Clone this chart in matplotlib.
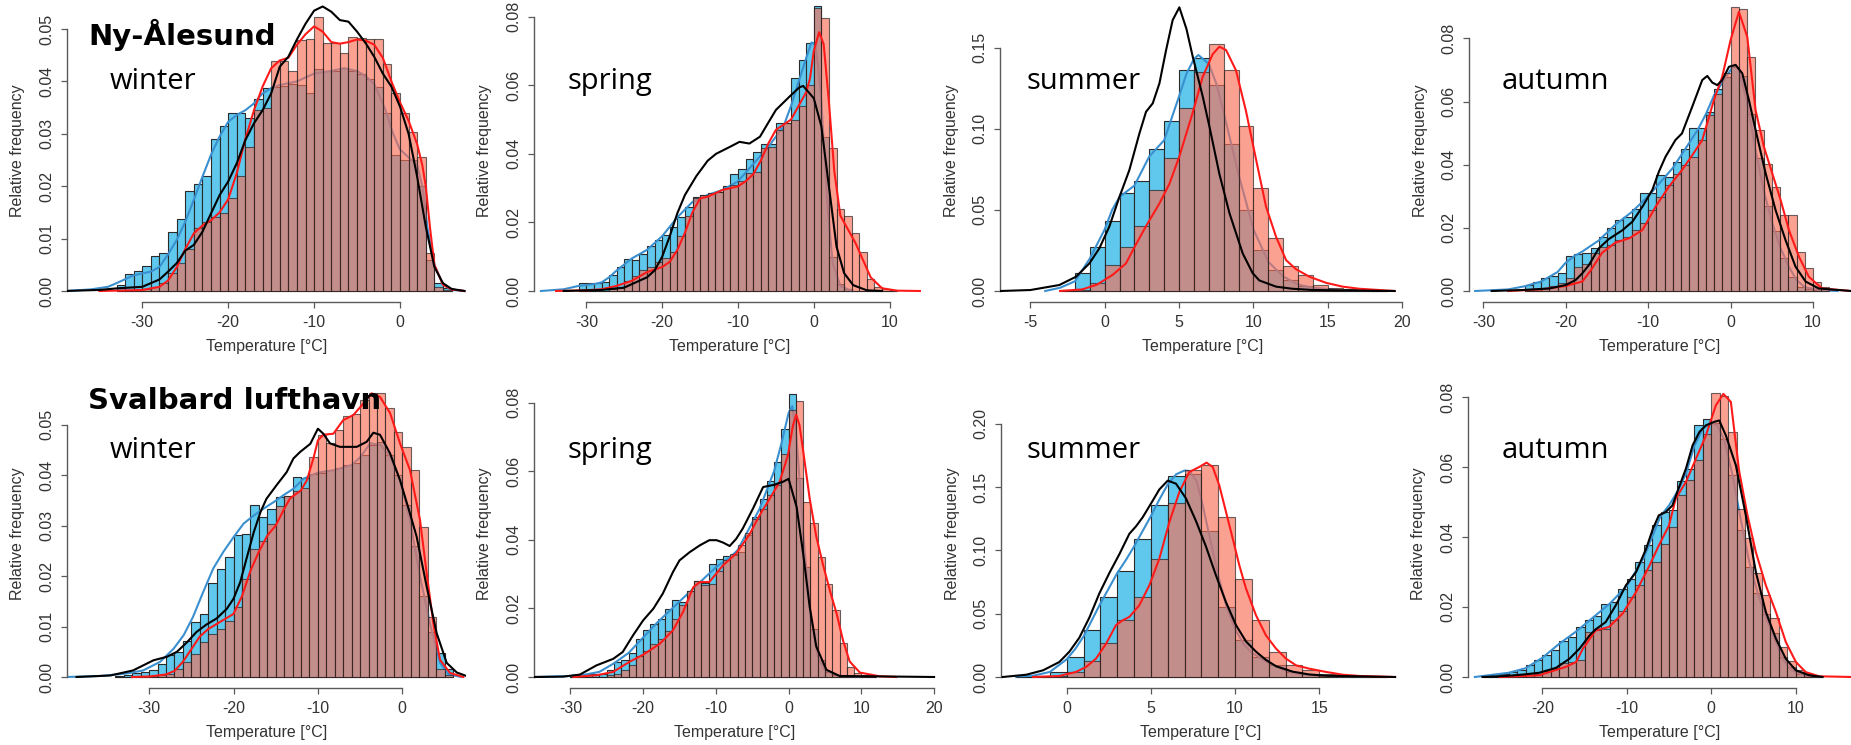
import matplotlib
matplotlib.use("Agg")
import matplotlib.pyplot as plt

plt.rcParams["axes.unicode_minus"] = False
plt.rcParams["font.family"] = ["Liberation Sans", "DejaVu Sans"]

# ---------------- data: histogram heights (1 degC bins) ----------------
# Ny-Alesund winter
ny_win_start = -33
ny_win_blue = [0.0012, 0.0032, 0.0039, 0.0048, 0.0066, 0.0072, 0.0113, 0.0137, 0.0190, 0.0204,
               0.0220, 0.0290, 0.0315, 0.0340, 0.0340, 0.0330, 0.0366, 0.0387, 0.0390, 0.0392,
               0.0395, 0.0393, 0.0378, 0.0423, 0.0420, 0.0420, 0.0425, 0.0420, 0.0414, 0.0405,
               0.0390, 0.0340, 0.0260, 0.0250, 0.0250, 0.0200, 0.0060, 0.0015, 0.0005]
ny_win_red = [0.0, 0.0, 0.0002, 0.0003, 0.0008, 0.0016, 0.0034, 0.0053, 0.0080, 0.0120,
              0.0132, 0.0142, 0.0148, 0.0177, 0.0220, 0.0275, 0.0345, 0.0350, 0.0438, 0.0438,
              0.0420, 0.0479, 0.0480, 0.0522, 0.0474, 0.0474, 0.0454, 0.0484, 0.0482, 0.0480,
              0.0480, 0.0434, 0.0378, 0.0340, 0.0304, 0.0255, 0.0072, 0.0008, 0.0002]

# Ny-Alesund spring
ny_spr_start = -31
ny_spr_blue = [0.0022, 0.0024, 0.0022, 0.0027, 0.0047, 0.0071, 0.0092, 0.0090, 0.0108, 0.0131,
               0.0150, 0.0163, 0.0188, 0.0217, 0.0246, 0.0275, 0.0280, 0.0285, 0.0290, 0.0305,
               0.0340, 0.0355, 0.0384, 0.0406, 0.0430, 0.0430, 0.0490, 0.0490, 0.0620, 0.0674,
               0.0722, 0.0830, 0.0450, 0.0100, 0.0020, 0.0005, 0.0, 0.0, 0.0, 0.0, 0.0, 0.0]
ny_spr_red = [0.0, 0.0, 0.0, 0.0, 0.0005, 0.0010, 0.0030, 0.0045, 0.0060, 0.0070,
              0.0085, 0.0095, 0.0115, 0.0160, 0.0220, 0.0270, 0.0280, 0.0285, 0.0290, 0.0300,
              0.0310, 0.0320, 0.0345, 0.0346, 0.0416, 0.0420, 0.0470, 0.0490, 0.0500, 0.0540,
              0.0600, 0.0824, 0.0795, 0.0416, 0.0240, 0.0220, 0.0168, 0.0113, 0.0034, 0.0013, 0.0007, 0.0003]

# Ny-Alesund summer
ny_sum_start = -3
ny_sum_blue = [0.0005, 0.0110, 0.0270, 0.0434, 0.0606, 0.0680, 0.0875, 0.1046, 0.1360, 0.1434,
               0.1270, 0.0906, 0.0500, 0.0250, 0.0130, 0.0068, 0.0030, 0.0014, 0.0005, 0.0003, 0.0001, 0.0]
ny_sum_red = [0.0, 0.0005, 0.0050, 0.0160, 0.0270, 0.0400, 0.0620, 0.0820, 0.1130, 0.1350,
              0.1520, 0.1360, 0.1020, 0.0635, 0.0325, 0.0155, 0.0098, 0.0040, 0.0020, 0.0010, 0.0005, 0.0003]

# Ny-Alesund autumn
ny_aut_start = -25
ny_aut_blue = [0.0019, 0.0030, 0.0040, 0.0047, 0.0056, 0.0110, 0.0117, 0.0120, 0.0135, 0.0170,
               0.0200, 0.0225, 0.0235, 0.0260, 0.0310, 0.0310, 0.0367, 0.0362, 0.0410, 0.0450,
               0.0515, 0.0515, 0.0568, 0.0640, 0.0677, 0.0710, 0.0680, 0.0560, 0.0420, 0.0270,
               0.0190, 0.0103, 0.0045, 0.0014, 0.0005, 0.0002, 0.0]
ny_aut_red = [0.0003, 0.0005, 0.0009, 0.0015, 0.0025, 0.0040, 0.0077, 0.0085, 0.0120, 0.0140,
              0.0146, 0.0160, 0.0172, 0.0193, 0.0216, 0.0256, 0.0299, 0.0336, 0.0372, 0.0400,
              0.0425, 0.0478, 0.0557, 0.0623, 0.0690, 0.0898, 0.0892, 0.0742, 0.0510, 0.0401,
              0.0330, 0.0240, 0.0240, 0.0125, 0.0072, 0.0030, 0.0012]

# Svalbard lufthavn winter
sv_win_start = -34
sv_win_blue = [0.0002, 0.0003, 0.0007, 0.0010, 0.0013, 0.0026, 0.0044, 0.0050, 0.0071, 0.0108,
               0.0124, 0.0187, 0.0213, 0.0238, 0.0282, 0.0284, 0.0340, 0.0317, 0.0332, 0.0357,
               0.0359, 0.0396, 0.0394, 0.0403, 0.0405, 0.0410, 0.0415, 0.0420, 0.0425, 0.0440,
               0.0460, 0.0465, 0.0440, 0.0400, 0.0340, 0.0260, 0.0160, 0.0090, 0.0047, 0.0015]
sv_win_red = [0.0, 0.0, 0.0, 0.0001, 0.0002, 0.0003, 0.0006, 0.0015, 0.0030, 0.0045,
              0.0070, 0.0085, 0.0095, 0.0110, 0.0139, 0.0195, 0.0254, 0.0270, 0.0304, 0.0339,
              0.0359, 0.0368, 0.0375, 0.0435, 0.0480, 0.0463, 0.0490, 0.0517, 0.0522, 0.0549,
              0.0562, 0.0562, 0.0532, 0.0486, 0.0456, 0.0410, 0.0298, 0.0118, 0.0015, 0.0003]

# Svalbard lufthavn spring
sv_spr_start = -30
sv_spr_blue = [0.0003, 0.0005, 0.0008, 0.0010, 0.0010, 0.0020, 0.0044, 0.0050, 0.0070, 0.0110,
               0.0136, 0.0155, 0.0170, 0.0197, 0.0224, 0.0219, 0.0250, 0.0279, 0.0275, 0.0330,
               0.0345, 0.0352, 0.0355, 0.0364, 0.0413, 0.0466, 0.0520, 0.0573, 0.0627, 0.0724,
               0.0826, 0.0580, 0.0320, 0.0140, 0.0050, 0.0015, 0.0005, 0.0002, 0.0, 0.0, 0.0, 0.0]
sv_spr_red = [0.0, 0.0, 0.0, 0.0, 0.0, 0.0005, 0.0010, 0.0020, 0.0035, 0.0060,
              0.0075, 0.0095, 0.0110, 0.0135, 0.0170, 0.0210, 0.0250, 0.0280, 0.0268, 0.0270,
              0.0310, 0.0340, 0.0360, 0.0385, 0.0420, 0.0460, 0.0490, 0.0530, 0.0560, 0.0650,
              0.0780, 0.0806, 0.0511, 0.0448, 0.0350, 0.0271, 0.0196, 0.0099, 0.0028, 0.0013, 0.0006, 0.0003]

# Svalbard lufthavn summer
sv_sum_start = -3
sv_sum_blue = [0.0003, 0.0010, 0.0040, 0.0158, 0.0368, 0.0630, 0.0840, 0.1090, 0.1355, 0.1587,
               0.1605, 0.1150, 0.0553, 0.0290, 0.0158, 0.0092, 0.0040, 0.0020, 0.0008, 0.0004, 0.0002, 0.0]
sv_sum_red = [0.0, 0.0002, 0.0008, 0.0040, 0.0130, 0.0270, 0.0447, 0.0630, 0.0930, 0.1376,
              0.1630, 0.1676, 0.1263, 0.0776, 0.0447, 0.0197, 0.0092, 0.0058, 0.0026, 0.0013, 0.0006, 0.0003]

# Svalbard lufthavn autumn
sv_aut_start = -27
sv_aut_blue = [0.0003, 0.0010, 0.0010, 0.0014, 0.0019, 0.0033, 0.0050, 0.0062, 0.0076, 0.0102,
               0.0114, 0.0143, 0.0162, 0.0173, 0.0210, 0.0215, 0.0252, 0.0280, 0.0329, 0.0376,
               0.0435, 0.0471, 0.0478, 0.0560, 0.0595, 0.0721, 0.0738, 0.0725, 0.0680, 0.0578,
               0.0421, 0.0315, 0.0239, 0.0180, 0.0125, 0.0058, 0.0030, 0.0010, 0.0003, 0.0]
sv_aut_red = [0.0, 0.0, 0.0, 0.0002, 0.0003, 0.0005, 0.0010, 0.0016, 0.0025, 0.0040,
              0.0043, 0.0050, 0.0129, 0.0133, 0.0138, 0.0162, 0.0190, 0.0229, 0.0262, 0.0305,
              0.0329, 0.0380, 0.0429, 0.0520, 0.0563, 0.0620, 0.0695, 0.0812, 0.0803, 0.0701,
              0.0479, 0.0396, 0.0298, 0.0234, 0.0168, 0.0086, 0.0045, 0.0020, 0.0008, 0.0003]

# ---------------- data: density curves (temperature, density) ----------------
ny_win_blue_line = [(-39, 0), (-36, 0.0003), (-34, 0.0008), (-33, 0.0015), (-31, 0.003), (-29, 0.0037),
                    (-28, 0.0046), (-27, 0.007), (-26, 0.0097), (-25, 0.0132), (-24, 0.0174), (-23, 0.0218),
                    (-22, 0.026), (-21, 0.0295), (-20, 0.0323), (-19, 0.0336), (-18, 0.0345), (-17, 0.0358),
                    (-16, 0.0377), (-15, 0.0387), (-14, 0.0393), (-12, 0.0400), (-10, 0.0415), (-8, 0.0420),
                    (-6.5, 0.0425), (-5, 0.0420), (-4, 0.0410), (-3, 0.0395), (-1.8, 0.035), (-0.8, 0.030),
                    (0, 0.027), (1, 0.0255), (2, 0.024), (2.6, 0.020), (3.2, 0.012), (4, 0.005), (5, 0.0012),
                    (6, 0.0002), (7.5, 0)]
ny_win_red_line = [(-35, 0), (-32, 0.0001), (-30, 0.0002), (-28, 0.0008), (-27, 0.002), (-26, 0.0045),
                   (-25, 0.008), (-24, 0.011), (-23, 0.0125), (-22, 0.0135), (-21, 0.015), (-20, 0.0175),
                   (-19, 0.0225), (-18, 0.029), (-17, 0.0345), (-16, 0.039), (-15, 0.0425), (-14, 0.044),
                   (-13, 0.0445), (-12, 0.047), (-11, 0.049), (-10, 0.0505), (-9, 0.0495), (-8, 0.0475),
                   (-7, 0.0472), (-6, 0.0475), (-5, 0.048), (-4, 0.0478), (-3, 0.047), (-2, 0.0445),
                   (-1, 0.040), (0, 0.036), (1, 0.0325), (2, 0.028), (2.6, 0.024), (3, 0.020), (3.5, 0.012),
                   (4, 0.005), (5, 0.0012), (6, 0.0003), (7.5, 0)]
ny_win_black_line = [(-39, 0), (-35, 0.0002), (-33, 0.0005), (-30, 0.0008), (-29, 0.0015), (-28, 0.0022),
                     (-27, 0.0037), (-26, 0.0053), (-25, 0.0077), (-24, 0.0088), (-23, 0.0113), (-22, 0.0148),
                     (-21, 0.0183), (-20, 0.0209), (-19, 0.0244), (-18, 0.0288), (-17, 0.032), (-16, 0.0345),
                     (-15, 0.0377), (-14, 0.0428), (-13, 0.0447), (-12, 0.048), (-11, 0.051), (-10, 0.0535),
                     (-9, 0.0543), (-8, 0.0533), (-7, 0.0517), (-6, 0.0514), (-5, 0.0495), (-4, 0.0473),
                     (-3, 0.0447), (-2, 0.0415), (-1, 0.039), (0, 0.0352), (1, 0.030), (2, 0.0218),
                     (3, 0.0123), (4, 0.0046), (5, 0.0015), (6, 0.0004), (7.5, 0)]

ny_spr_blue_line = [(-36, 0), (-33, 0.0005), (-31, 0.0015), (-29, 0.002), (-28, 0.0025), (-27, 0.004),
                    (-26, 0.006), (-24, 0.0095), (-22, 0.012), (-20, 0.016), (-18, 0.0215), (-16, 0.026),
                    (-14, 0.028), (-12, 0.0295), (-10, 0.032), (-8, 0.037), (-6, 0.042), (-5, 0.045),
                    (-4, 0.048), (-3, 0.054), (-2, 0.061), (-1, 0.068), (-0.3, 0.0725), (0.2, 0.072),
                    (0.6, 0.065), (1, 0.055), (1.4, 0.04), (1.8, 0.025), (2.5, 0.008), (3.5, 0.0015), (5, 0)]
ny_spr_red_line = [(-34, 0), (-30, 0.0002), (-28, 0.0005), (-26, 0.0015), (-24, 0.003), (-22, 0.0055),
                   (-20, 0.007), (-19, 0.0085), (-18, 0.012), (-17, 0.017), (-16, 0.023), (-15, 0.027),
                   (-14, 0.0275), (-13, 0.0285), (-12, 0.0295), (-11, 0.030), (-10, 0.0305), (-9, 0.032),
                   (-8, 0.034), (-7, 0.038), (-6, 0.043), (-5, 0.047), (-4, 0.0485), (-3, 0.050),
                   (-2, 0.054), (-1, 0.058), (-0.5, 0.062), (0, 0.070), (0.7, 0.0755), (1.3, 0.072),
                   (2, 0.055), (2.7, 0.035), (3.5, 0.022), (4.5, 0.018), (5.5, 0.014), (6.5, 0.009),
                   (7.5, 0.004), (9, 0.0008), (11, 0.0001), (14, 0)]
ny_spr_black_line = [(-33, 0), (-28, 0.0003), (-25, 0.001), (-22, 0.004), (-21, 0.006), (-20, 0.01),
                     (-19, 0.016), (-18, 0.0227), (-17, 0.028), (-15.5, 0.0335), (-14, 0.038), (-12.9, 0.040),
                     (-11.1, 0.042), (-9.8, 0.0435), (-8.5, 0.043), (-7.1, 0.045), (-6.3, 0.048),
                     (-5, 0.0528), (-3.2, 0.0567), (-1.9, 0.0594), (-1.4, 0.0598), (0, 0.0562), (1, 0.048),
                     (2, 0.0304), (3, 0.0129), (4, 0.0052), (5.2, 0.0017), (7, 0.0002), (9, 0)]

ny_sum_blue_line = [(-4, 0), (-3, 0.002), (-2, 0.006), (-1, 0.02), (0, 0.038), (0.5, 0.05), (1, 0.058),
                    (2, 0.065), (3, 0.083), (4, 0.093), (5, 0.12), (5.5, 0.134), (6, 0.143), (6.3, 0.1455),
                    (7, 0.14), (7.5, 0.128), (8, 0.11), (9, 0.072), (10, 0.038), (11, 0.018), (12, 0.009),
                    (13, 0.004), (14, 0.002), (16, 0.0005), (18, 0)]
ny_sum_red_line = [(-3, 0), (-1.5, 0.001), (-0.5, 0.004), (0.54, 0.01), (1.43, 0.017), (2.0, 0.027),
                   (2.78, 0.04), (3.68, 0.054), (4.35, 0.066), (5.02, 0.083), (5.92, 0.11), (6.59, 0.132),
                   (7.26, 0.146), (7.71, 0.1506), (8.16, 0.1486), (8.83, 0.136), (9.5, 0.111),
                   (10.18, 0.081), (10.85, 0.052), (11.52, 0.0335), (12.2, 0.019), (12.87, 0.0134),
                   (13.77, 0.0088), (14.9, 0.005), (16.0, 0.0027), (17.1, 0.0014), (19.5, 0)]
ny_sum_black_line = [(-7, 0), (-5, 0.0006), (-3.05, 0.0037), (-1.93, 0.0088), (-1.03, 0.017),
                     (-0.36, 0.0263), (0.31, 0.0397), (0.99, 0.058), (1.66, 0.0746), (2.33, 0.097),
                     (2.78, 0.1105), (3.23, 0.1157), (3.68, 0.128), (4.13, 0.1486), (4.57, 0.167),
                     (5.02, 0.1749), (5.5, 0.1615), (5.92, 0.1445), (6.59, 0.12), (7.04, 0.1015),
                     (7.71, 0.0723), (8.39, 0.048), (9.28, 0.0232), (9.95, 0.011), (10.4, 0.0065),
                     (11.52, 0.0027), (12.6, 0.0014), (14, 0.0006), (19.5, 0)]

ny_aut_blue_line = [(-31, 0), (-27, 0.0005), (-25, 0.0015), (-23, 0.003), (-21, 0.006), (-20, 0.009),
                    (-19, 0.011), (-18, 0.0125), (-16, 0.016), (-14, 0.021), (-12, 0.025), (-10, 0.030),
                    (-9, 0.033), (-8, 0.036), (-7, 0.039), (-6, 0.043), (-5, 0.047), (-4, 0.051),
                    (-3, 0.056), (-2, 0.062), (-1, 0.066), (0, 0.070), (0.5, 0.0715), (1, 0.07), (2, 0.06),
                    (3, 0.045), (4, 0.032), (5, 0.022), (6, 0.014), (7, 0.008), (8, 0.0035), (9, 0.0012),
                    (11, 0.0002), (13, 0)]
ny_aut_red_line = [(-27, 0), (-23, 0.0005), (-20, 0.0016), (-18, 0.003), (-17, 0.0064), (-15.6, 0.0121),
                   (-14, 0.0153), (-12.3, 0.0167), (-10.7, 0.0193), (-9.1, 0.0267), (-7.5, 0.033),
                   (-5.9, 0.0383), (-4.65, 0.043), (-3.44, 0.0478), (-2.02, 0.0605), (-1.01, 0.0679),
                   (0, 0.0795), (1.01, 0.0884), (2.02, 0.0805), (3.03, 0.0573), (4.04, 0.0457),
                   (5.05, 0.0373), (6.07, 0.0288), (7.08, 0.0193), (8.29, 0.0109), (9.5, 0.0045),
                   (11.1, 0.0008), (14.6, 0)]
ny_aut_black_line = [(-29, 0), (-25.3, 0.0003), (-22, 0.0008), (-20, 0.0019), (-18.8, 0.0035),
                     (-18, 0.0056), (-17.2, 0.0082), (-16, 0.0135), (-14.8, 0.0164), (-13.1, 0.0193),
                     (-11.9, 0.022), (-10.7, 0.0267), (-9.5, 0.032), (-8.7, 0.0378), (-7.9, 0.0425),
                     (-6.7, 0.0478), (-5.9, 0.0499), (-4.65, 0.0584), (-3.44, 0.0668), (-2.83, 0.0681),
                     (-2.22, 0.066), (-1.62, 0.0652), (-1.01, 0.0668), (-0.2, 0.071), (0.61, 0.0716),
                     (1.42, 0.0689), (2.22, 0.0605), (3.03, 0.051), (4.25, 0.0373), (5.46, 0.0256),
                     (6.67, 0.0161), (7.88, 0.0077), (9.1, 0.003), (10.7, 0.0008), (14.6, 0)]

sv_win_blue_line = [(-39.8, 0), (-35.8, 0.0002), (-32.6, 0.0007), (-30.7, 0.0013), (-28.7, 0.003),
                    (-27.1, 0.0056), (-25.9, 0.0083), (-24.8, 0.0119), (-23.6, 0.0168), (-22.4, 0.0215),
                    (-21.2, 0.0248), (-20, 0.0277), (-18.8, 0.0304), (-17.6, 0.032), (-16.4, 0.0334),
                    (-15.2, 0.0347), (-14.1, 0.036), (-12.9, 0.0373), (-11.7, 0.0393), (-10, 0.0405),
                    (-8, 0.041), (-6, 0.042), (-5, 0.0435), (-3.8, 0.0463), (-2.6, 0.046), (-1.45, 0.0437),
                    (-0.27, 0.039), (0.91, 0.0311), (2.1, 0.0199), (3.28, 0.0106), (4.47, 0.0028),
                    (5.5, 0.0005), (7, 0)]
sv_win_red_line = [(-32, 0), (-30, 0.0001), (-28, 0.0005), (-27, 0.0012), (-26, 0.003), (-25, 0.0055),
                   (-24, 0.008), (-23, 0.0095), (-22, 0.0105), (-21, 0.0115), (-20, 0.0125), (-19, 0.016),
                   (-18, 0.021), (-17, 0.0248), (-16, 0.028), (-15, 0.030), (-14, 0.0333), (-13.3, 0.0354),
                   (-12, 0.037), (-11.3, 0.039), (-10.5, 0.0435), (-10, 0.0469), (-9.36, 0.048),
                   (-8.17, 0.0482), (-7, 0.0509), (-5.8, 0.0519), (-4.61, 0.0542), (-3.63, 0.0562),
                   (-2.64, 0.0555), (-1.45, 0.0523), (-0.27, 0.0463), (0.91, 0.041), (2.1, 0.0311),
                   (2.89, 0.0205), (3.68, 0.0106), (4.47, 0.0034), (5.66, 0.0008), (7.24, 0)]
sv_win_black_line = [(-38.6, 0), (-34.6, 0.0003), (-31.9, 0.0013), (-29.5, 0.0033), (-27.9, 0.004),
                     (-26.7, 0.005), (-25.5, 0.0069), (-24.4, 0.0089), (-23.2, 0.0104), (-22, 0.0116),
                     (-20.8, 0.0135), (-20, 0.0155), (-19.2, 0.0188), (-18.4, 0.0238), (-17.6, 0.0287),
                     (-16.8, 0.0327), (-16.1, 0.0353), (-14.9, 0.038), (-13.7, 0.0406), (-12.9, 0.0433),
                     (-12.1, 0.0446), (-10.9, 0.0462), (-10, 0.0492), (-9.36, 0.0482), (-8.57, 0.0463),
                     (-7.4, 0.0456), (-5.4, 0.0456), (-4.22, 0.0466), (-3.43, 0.0484), (-2.64, 0.048),
                     (-1.45, 0.0443), (-0.27, 0.039), (0.91, 0.0324), (1.7, 0.0278), (2.89, 0.0179),
                     (4.07, 0.0087), (5.26, 0.0028), (6.45, 0.0009), (7.6, 0.0002)]

sv_spr_blue_line = [(-35, 0), (-30, 0.0003), (-28, 0.0007), (-26, 0.0015), (-24, 0.004), (-22, 0.007),
                    (-20, 0.0115), (-18, 0.016), (-16, 0.02), (-14, 0.024), (-12, 0.028), (-10, 0.032),
                    (-8, 0.035), (-7, 0.037), (-6, 0.041), (-4, 0.049), (-2, 0.060), (-1, 0.068),
                    (0, 0.077), (0.5, 0.079), (1, 0.072), (1.5, 0.058), (2, 0.042), (3, 0.018),
                    (4, 0.006), (5, 0.002), (7, 0.0003), (10, 0)]
sv_spr_red_line = [(-29.6, 0), (-26.4, 0.0005), (-24.1, 0.0015), (-21.9, 0.0044), (-20, 0.0065),
                   (-17.7, 0.0097), (-15.9, 0.0136), (-14.5, 0.019), (-13.1, 0.0262), (-12.2, 0.0277),
                   (-10.9, 0.0277), (-9, 0.0326), (-7.2, 0.036), (-5.4, 0.0415), (-4, 0.0471),
                   (-2.6, 0.052), (-1.24, 0.0569), (-0.1, 0.0646), (0.6, 0.0734), (1.05, 0.0765),
                   (1.5, 0.0734), (2, 0.066), (2.9, 0.052), (3.8, 0.041), (4.7, 0.033), (5.7, 0.025),
                   (6.6, 0.0185), (7.5, 0.0105), (8.4, 0.0045), (9.8, 0.0013), (12.5, 0.0002), (14.8, 0)]
sv_spr_black_line = [(-35, 0), (-31, 0.0001), (-28.7, 0.0007), (-26.4, 0.0034), (-24.1, 0.0053),
                     (-22.8, 0.0073), (-21.4, 0.0121), (-20, 0.0165), (-18.6, 0.0199), (-17.3, 0.0243),
                     (-15.9, 0.0306), (-15, 0.034), (-13.6, 0.0364), (-12.2, 0.0384), (-10.9, 0.0399),
                     (-9.9, 0.0399), (-9, 0.0392), (-8.1, 0.0382), (-7.2, 0.0403), (-6.3, 0.0433),
                     (-4.9, 0.0491), (-3.5, 0.0554), (-2.1, 0.056), (-0.8, 0.0569), (0, 0.0578),
                     (1.1, 0.0496), (2, 0.036), (2.9, 0.0205), (3.8, 0.0089), (5.2, 0.0021), (7, 0.0003),
                     (20, 0)]

sv_sum_blue_line = [(-3, 0), (-2, 0.001), (-1, 0.004), (0, 0.014), (0.5, 0.022), (1, 0.032), (1.5, 0.045),
                    (2, 0.058), (2.5, 0.07), (3, 0.082), (3.5, 0.092), (4, 0.103), (4.5, 0.115),
                    (5, 0.127), (5.5, 0.14), (6, 0.152), (6.5, 0.16), (7, 0.163), (7.3, 0.1625),
                    (7.7, 0.155), (8, 0.14), (8.5, 0.11), (9, 0.08), (9.5, 0.055), (10, 0.038),
                    (10.5, 0.026), (11, 0.019), (12, 0.011), (13, 0.005), (14, 0.002), (16, 0.0005), (18, 0)]
sv_sum_red_line = [(-2, 0), (-0.44, 0.0008), (0.55, 0.004), (1.15, 0.0079), (1.74, 0.0145), (2.34, 0.0263),
                   (2.93, 0.041), (3.32, 0.0447), (3.72, 0.0474), (4.31, 0.0566), (4.91, 0.0724),
                   (5.5, 0.0934), (6.1, 0.1224), (6.69, 0.146), (7.28, 0.1618), (7.88, 0.1658),
                   (8.3, 0.1692), (8.67, 0.1658), (9.06, 0.1513), (9.46, 0.1303), (9.86, 0.1092),
                   (10.25, 0.0882), (10.65, 0.0697), (11.24, 0.0487), (11.83, 0.0329), (12.43, 0.0224),
                   (13.02, 0.0145), (13.62, 0.0092), (14.4, 0.0066), (15.4, 0.004), (16.4, 0.0018),
                   (17.4, 0.0008), (19.5, 0)]
sv_sum_black_line = [(-3.8, 0), (-2.4, 0.0018), (-1.4, 0.0053), (-0.44, 0.0118), (0.16, 0.02),
                     (0.75, 0.031), (1.35, 0.047), (1.94, 0.066), (2.53, 0.082), (3.13, 0.097),
                     (3.72, 0.113), (4.12, 0.119), (4.51, 0.126), (5.1, 0.139), (5.5, 0.148), (6.0, 0.155),
                     (6.49, 0.1526), (7.08, 0.141), (7.68, 0.123), (8.27, 0.103), (8.87, 0.08),
                     (9.46, 0.059), (10.05, 0.041), (10.65, 0.028), (11.24, 0.02), (11.83, 0.0135),
                     (12.43, 0.0085), (13.42, 0.0042), (14.4, 0.002), (15.4, 0.001), (19.5, 0)]

sv_aut_blue_line = [(-28, 0), (-26, 0.0006), (-24, 0.0012), (-22, 0.0025), (-20, 0.0055), (-18, 0.0095),
                    (-16, 0.013), (-14, 0.017), (-12, 0.021), (-10, 0.026), (-8, 0.034), (-7, 0.04),
                    (-6, 0.046), (-5, 0.049), (-4, 0.053), (-3, 0.058), (-2, 0.066), (-1, 0.071),
                    (0, 0.0725), (0.7, 0.072), (1.5, 0.068), (2.5, 0.058), (3.5, 0.045), (4.5, 0.033),
                    (5.5, 0.024), (6.5, 0.017), (7.5, 0.011), (8.5, 0.005), (9.5, 0.002), (11, 0.0005), (13, 0)]
sv_aut_red_line = [(-25.1, 0), (-20.4, 0.0005), (-17.2, 0.0029), (-16, 0.0043), (-15.2, 0.0081),
                   (-13.7, 0.0133), (-12.1, 0.0143), (-10.5, 0.0181), (-8.9, 0.0243), (-7.3, 0.0319),
                   (-6.2, 0.0376), (-5, 0.0433), (-4.2, 0.051), (-3, 0.0557), (-1.8, 0.0624),
                   (-0.63, 0.069), (0.55, 0.0776), (1.44, 0.0809), (2.33, 0.0786), (3.3, 0.059),
                   (4.3, 0.0462), (5.29, 0.0357), (6.47, 0.0262), (7.66, 0.0186), (8.84, 0.01),
                   (10.03, 0.0043), (11.2, 0.0014), (12.8, 0.0002), (16.7, 0)]
sv_aut_black_line = [(-27.1, 0), (-24.3, 0.0003), (-22.3, 0.0007), (-20.4, 0.0012), (-18.4, 0.0026),
                     (-16.8, 0.0052), (-15.6, 0.0081), (-14.4, 0.0119), (-13.7, 0.0136), (-12.5, 0.0157),
                     (-11.3, 0.0205), (-10.1, 0.0262), (-8.9, 0.03), (-7.7, 0.0367), (-6.9, 0.0424),
                     (-6.2, 0.0462), (-5.4, 0.0471), (-4.6, 0.049), (-3.8, 0.0543), (-3, 0.0595),
                     (-2.2, 0.0662), (-1.4, 0.07), (-0.63, 0.0719), (0.36, 0.0729), (0.95, 0.0733),
                     (1.74, 0.069), (2.92, 0.0605), (4.1, 0.0462), (5.29, 0.03), (6.47, 0.0186),
                     (7.66, 0.011), (8.84, 0.0052), (10.03, 0.0019), (11.6, 0.0005), (13.2, 0)]

stations = ["Ny-Ålesund", "Svalbard lufthavn"]
seasons = ["winter", "spring", "summer", "autumn"]

# ---------------- layout (pixels in the 1851x745 canvas) ----------------
W, H = 1851, 745
# left, right, bottom, top, x-pixel of 0 degC, px per degC, y-pixel of 0, px per unit
BOXES = [
    (67, 466, 302, 0, 400.0, 8.59, 291, 5240),
    (534, 925, 302, 0, 813.8, 7.58, 291, 3429),
    (1000, 1406, 302, 0, 1104.7, 14.87, 291, 1622),
    (1469, 1851, 302, 0, 1730.6, 8.24, 291, 3158),
    (67, 466, 688, 380, 402.3, 8.44, 677, 5047),
    (534, 936, 688, 380, 788.6, 7.275, 677, 3429),
    (1001, 1401, 688, 380, 1066.7, 16.84, 677, 1267),
    (1468, 1851, 688, 380, 1711.2, 8.44, 677, 3500),
]
XTICKS = [[-30, -20, -10, 0], [-30, -20, -10, 0, 10], [-5, 0, 5, 10, 15, 20], [-30, -20, -10, 0, 10],
          [-30, -20, -10, 0], [-30, -20, -10, 0, 10, 20], [0, 5, 10, 15], [-20, -10, 0, 10]]
YTICKS = [[0, 0.01, 0.02, 0.03, 0.04, 0.05], [0, 0.02, 0.04, 0.06, 0.08], [0, 0.05, 0.10, 0.15],
          [0, 0.02, 0.04, 0.06, 0.08], [0, 0.01, 0.02, 0.03, 0.04, 0.05], [0, 0.02, 0.04, 0.06, 0.08],
          [0, 0.05, 0.10, 0.15, 0.20], [0, 0.02, 0.04, 0.06, 0.08]]

HISTS = [
    (ny_win_start, ny_win_blue, ny_win_red, ny_win_blue_line, ny_win_red_line, ny_win_black_line),
    (ny_spr_start, ny_spr_blue, ny_spr_red, ny_spr_blue_line, ny_spr_red_line, ny_spr_black_line),
    (ny_sum_start, ny_sum_blue, ny_sum_red, ny_sum_blue_line, ny_sum_red_line, ny_sum_black_line),
    (ny_aut_start, ny_aut_blue, ny_aut_red, ny_aut_blue_line, ny_aut_red_line, ny_aut_black_line),
    (sv_win_start, sv_win_blue, sv_win_red, sv_win_blue_line, sv_win_red_line, sv_win_black_line),
    (sv_spr_start, sv_spr_blue, sv_spr_red, sv_spr_blue_line, sv_spr_red_line, sv_spr_black_line),
    (sv_sum_start, sv_sum_blue, sv_sum_red, sv_sum_blue_line, sv_sum_red_line, sv_sum_black_line),
    (sv_aut_start, sv_aut_blue, sv_aut_red, sv_aut_blue_line, sv_aut_red_line, sv_aut_black_line),
]

BLUE_BAR = "#5fc8ec"
RED_BAR = "#f96f58"
BLUE_LINE = "#3a8fcf"
RED_LINE = "#ff1a1a"
AXIS_COL = "#5a5a5a"
LW = 1.5

fig = plt.figure(figsize=(W / 100, H / 100), dpi=100)

for i, (box, xt, yt, hist) in enumerate(zip(BOXES, XTICKS, YTICKS, HISTS)):
    left, right, bottom, top, x0, sx, y0, sy = box
    start, blue, red, bline, rline, kline = hist

    ax = fig.add_axes([left / W, 1 - bottom / H, (right - left) / W, (bottom - top) / H])
    ax.set_xlim((left - x0) / sx, (right - x0) / sx)
    ax.set_ylim((y0 - bottom) / sy, (y0 - top) / sy)

    ax.bar([start + k for k in range(len(blue))], blue, width=1.0, align="edge",
           color=BLUE_BAR, edgecolor="#2a2a2a", linewidth=0.8, zorder=1)
    ax.plot([p[0] for p in bline], [p[1] for p in bline], color=BLUE_LINE, lw=LW, zorder=2)
    ax.bar([start + k for k in range(len(red))], red, width=1.0, align="edge",
           color=RED_BAR, alpha=0.65, edgecolor="#1a1a1a", linewidth=0.8, zorder=3)
    ax.plot([p[0] for p in rline], [p[1] for p in rline], color=RED_LINE, lw=LW, zorder=4)
    ax.plot([p[0] for p in kline], [p[1] for p in kline], color="black", lw=LW, zorder=5)

    for s in ("top", "right"):
        ax.spines[s].set_visible(False)
    for s in ("left", "bottom"):
        ax.spines[s].set_color(AXIS_COL)
        ax.spines[s].set_linewidth(1.0)
    ax.spines["left"].set_bounds(0, yt[-1])
    ax.spines["bottom"].set_bounds(xt[0], xt[-1])

    ax.set_xticks(xt)
    ax.set_xticklabels([str(v) for v in xt])
    ax.set_yticks(yt)
    ax.set_yticklabels(["%.2f" % v for v in yt], rotation=90, va="center")
    ax.tick_params(length=4.3, width=0.9, color=AXIS_COL, labelsize=11.5, labelcolor="#333333")
    ax.tick_params(axis="x", pad=5)
    ax.tick_params(axis="y", pad=5)

    axw, axh = right - left, bottom - top
    ax.set_xlabel("Temperature [°C]", fontsize=11.5, color="#333333", va="center")
    ax.xaxis.set_label_coords(0.5, -45 / axh)
    ax.set_ylabel("Relative frequency", fontsize=11.5, color="#333333", va="center")
    ax.yaxis.set_label_coords(-49 / axw, 0.5)

# station names and season labels
for r, station in enumerate(stations):
    base = 45 if r == 0 else 409
    fig.text(88 / W, 1 - base / H, station, fontsize=21, fontweight="bold",
             family="DejaVu Sans", va="baseline", ha="left")
    for c, season in enumerate(seasons):
        sx_px = [110, 567, 1026, 1502][c]
        sy_px = 89 if r == 0 else 458
        fig.text(sx_px / W, 1 - sy_px / H, season, fontsize=21, family="Open Sans",
                 va="baseline", ha="left")

fig.savefig("out.png", dpi=100)
